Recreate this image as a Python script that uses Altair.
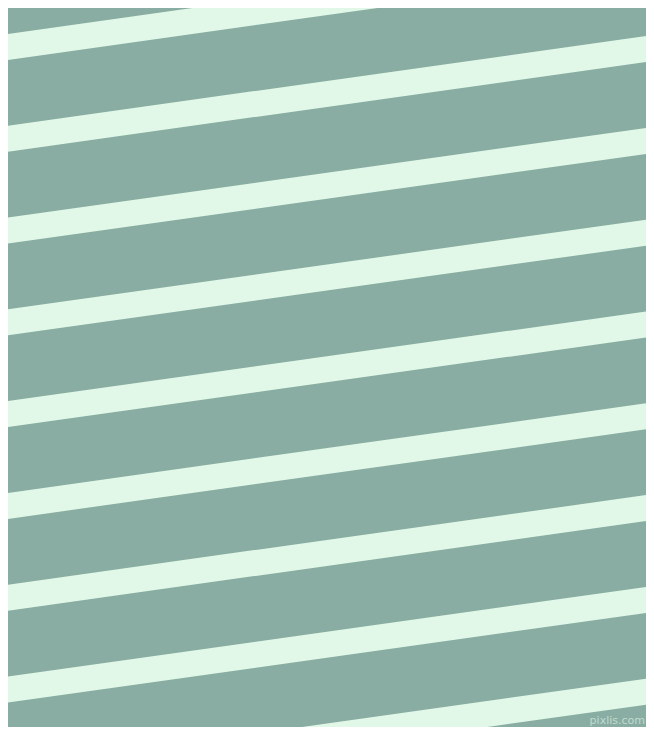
import altair as alt
import pandas as pd

# Stripe centre lines: y (pixels from top) at the left edge x=0 and right edge x=654
stripe_left_y = [48.0, 139.8, 231.6, 323.4, 415.2, 507.0, 598.8, 690.6, 782.4]
stripe_right_y = [-43.8, 48.0, 139.8, 231.6, 323.4, 415.2, 507.0, 598.8, 690.6]
edge_x = [0, 654]

BG = "#89ADA2"
STRIPE = "#E1F8E8"

rows = []
for i, (yl, yr) in enumerate(zip(stripe_left_y, stripe_right_y)):
    rows.append({"id": i, "x": edge_x[0], "y": yl, "x2": edge_x[1], "y2": yr})
df = pd.DataFrame(rows)

# visible window (page has 8px margin, so align the chart with the reference pixels)
X0, X1 = 8, 646
Y0, Y1 = 8, 727

xs = alt.Scale(domain=[X0, X1], nice=False, zero=False)
ys = alt.Scale(domain=[Y0, Y1], nice=False, zero=False, reverse=True)

stripes = alt.Chart(df).mark_rule(
    color=STRIPE, strokeWidth=25.75, strokeCap="butt", clip=True
).encode(
    x=alt.X("x:Q", scale=xs, axis=None),
    y=alt.Y("y:Q", scale=ys, axis=None),
    x2="x2:Q",
    y2="y2:Q",
)

wm = pd.DataFrame({"x": [645], "y": [726], "t": ["pixlis.com"]})
watermark = alt.Chart(wm).mark_text(
    align="right", baseline="bottom", fontSize=11, font="DejaVu Sans",
    color="#D8EEE4", opacity=0.7
).encode(
    x=alt.X("x:Q", scale=xs, axis=None),
    y=alt.Y("y:Q", scale=ys, axis=None),
    text="t:N",
)

chart = alt.layer(stripes, watermark).properties(
    width=X1 - X0, height=Y1 - Y0, background=BG, padding=0,
    autosize=alt.AutoSizeParams(type="none"),
).configure_view(stroke=None, fill=BG)

chart.save("out.html", embed_options={"renderer": "svg", "actions": False})
